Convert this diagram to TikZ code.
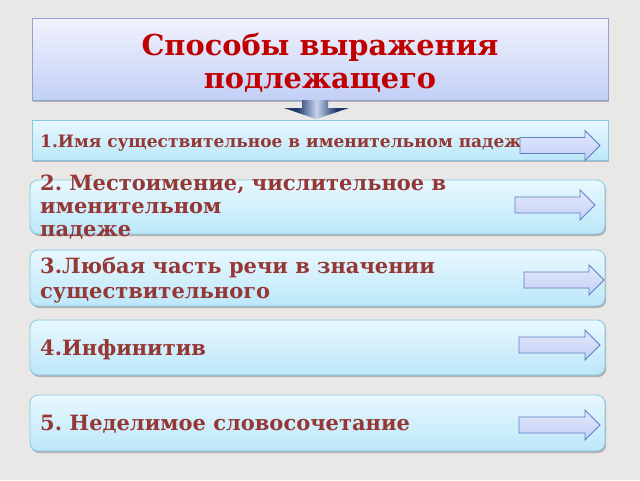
\documentclass[tikz,border=0pt]{standalone}
\usepackage{fontspec}
\setmainfont{DejaVu Serif}
\usetikzlibrary{shadows}
\frenchspacing
\definecolor{bg}{HTML}{E9E8E6}
\definecolor{titlered}{HTML}{C00000}
\definecolor{itemred}{HTML}{953735}
\definecolor{ttop}{HTML}{F2F2FD}
\definecolor{tbot}{HTML}{C2D0F5}
\definecolor{tborder}{HTML}{8FA3CC}
\definecolor{btop}{HTML}{E8F8FE}
\definecolor{bbot}{HTML}{BCE7F9}
\definecolor{bborder}{HTML}{86C8E2}
\definecolor{atop}{HTML}{E2E8FC}
\definecolor{abot}{HTML}{C4CFF4}
\definecolor{aborder}{HTML}{5E7FC4}
\definecolor{dark}{HTML}{1F3B6E}
\definecolor{light}{HTML}{C8D3EC}
\pgfdeclarehorizontalshading{cyl}{100bp}{color(0bp)=(dark); color(35bp)=(dark); color(50bp)=(light); color(65bp)=(dark); color(100bp)=(dark)}
\tikzset{
  shad/.style={drop shadow={shadow xshift=1.2pt,shadow yshift=-2pt,opacity=0.35,fill=black!70}},
  titlebox/.style={draw=tborder,line width=0.8pt,top color=ttop,bottom color=tbot,shad,inner sep=0pt},
  sqbox/.style={draw=bborder,line width=0.8pt,top color=btop,bottom color=bbot,shad,inner sep=0pt,minimum width=576pt},
  rbox/.style={sqbox,rounded corners=8pt,minimum width=575pt},
  ttext/.style={text=titlered,font=\fontsize{28.8}{33}\selectfont\bfseries,inner sep=0pt,anchor=base},
  itext/.style={text=itemred,font=\fontsize{21}{23}\selectfont\bfseries,inner sep=0pt,anchor=base west},
  stext/.style={itext,font=\fontsize{17}{18}\selectfont\bfseries},
  rarrow/.style={draw=aborder,line width=0.8pt,top color=atop,bottom color=abot,line join=miter},
  darrow/.style={shading=cyl}
}
\begin{document}
\begin{tikzpicture}[x=1pt,y=-1pt]
\useasboundingbox (0,0) rectangle (640,480);
\fill[bg] (0,0) rectangle (640,480);
% boxes
\node[titlebox,minimum width=576pt,minimum height=82pt] (title) at (320,59) {};
\node[sqbox,minimum height=40pt] (b1) at (320,140) {};
\node[rbox,minimum height=54pt] (b2) at (317.5,207) {};
\node[rbox,minimum height=56pt] (b3) at (317.5,278) {};
\node[rbox,minimum height=55pt] (b4) at (317.5,347.5) {};
\node[rbox,minimum height=56pt] (b5) at (317.5,423) {};
% down arrow
\coordinate (dtip) at (316,119);
\shade[darrow] (302,100) -- (328,100) -- (328,108) -- (349,108) -- (dtip) -- (284,108) -- (302,108) -- cycle;
% texts
\node[ttext] (tt1) at (320,55) {Способы выражения};
\node[ttext] (tt2) at (320,88) {подлежащего};
\node[stext] (t1) at (40,147) {1.Имя существительное в именительном падеже};
\node[itext] (t2a) at (40,190) {2. Местоимение, числительное в};
\node[itext] (t2b) at (40,213) {именительном};
\node[itext] (t2c) at (40,236) {падеже};
\node[itext] (t3a) at (40,273) {3.Любая часть речи в значении};
\node[itext] (t3b) at (40,298) {существительного};
\node[itext] (t4) at (40,355) {4.Инфинитив};
\node[itext] (t5) at (40,430) {5. Неделимое словосочетание};
% right arrows
\foreach \n/\x/\y/\t in {1/520/145.5/600, 2/515/205/595, 3/524/280/604, 4/519/345/600, 5/519/425/600}{
  \draw[rarrow] (\x,\y-8) -- (\t-15,\y-8) -- (\t-15,\y-15) -- (\t,\y) -- (\t-15,\y+15) -- (\t-15,\y+8) -- (\x,\y+8) -- cycle;
}
\end{tikzpicture}
\end{document}
